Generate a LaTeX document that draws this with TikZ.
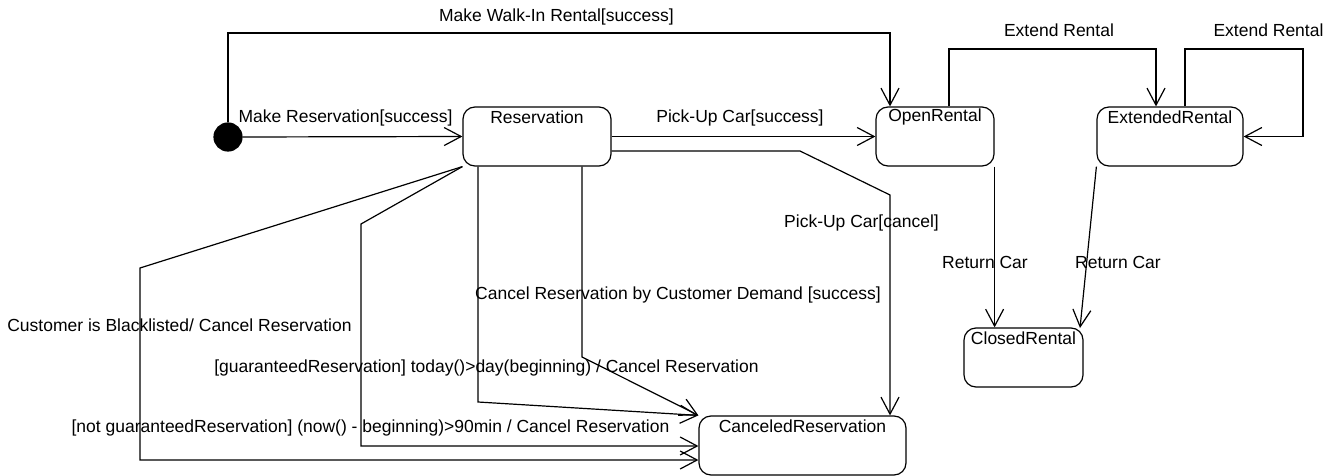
\documentclass[tikz,border=0pt]{standalone}
\usepackage{fontspec}
\setmainfont{Liberation Sans}
\usetikzlibrary{arrows.meta}

\tikzset{
  state/.style={draw, line width=1.2pt, rounded corners=12pt, inner sep=0pt},
  initial/.style={circle, fill=black, draw, line width=1.2pt, minimum size=28pt, inner sep=0pt},
  tr/.style={line width=1.2pt, -{Straight Barb[length=17pt, width=18pt, line width=1.2pt]}},
  lbl/.style={inner sep=0pt, font=\fontsize{17.5}{20}\selectfont},
}

\begin{document}
\begin{tikzpicture}[x=1pt, y=-1pt, font=\fontsize{17.5}{20}\selectfont]
  \useasboundingbox (0,0) rectangle (1338,476);

  % states
  \node[initial] (init) at (228,137) {};
  \node[state, minimum width=148pt, minimum height=59pt,
        label={[lbl, anchor=center, yshift=-11pt]north:Reservation}] (res) at (537,136.5) {};
  \node[state, minimum width=118pt, minimum height=59pt,
        label={[lbl, anchor=center, yshift=-11pt]north:OpenRental}] (open) at (935,136.5) {};
  \node[state, minimum width=146pt, minimum height=59pt,
        label={[lbl, anchor=center, yshift=-11pt]north:ExtendedRental}] (ext) at (1170,136.5) {};
  \node[state, minimum width=119pt, minimum height=59pt,
        label={[lbl, anchor=center, yshift=-11pt]north:ClosedRental}] (closed) at (1023.5,357.5) {};
  \node[state, minimum width=207pt, minimum height=59pt,
        label={[lbl, anchor=center, yshift=-11pt]north:CanceledReservation}] (canc) at (802.5,445.5) {};

  % bend points
  \coordinate (w1) at (890,33);
  \coordinate (pc1) at (800,151);
  \coordinate (pc2) at (890,195);
  \coordinate (e1) at (949,49);
  \coordinate (e2) at (1156,49);
  \coordinate (s1) at (1185,49);
  \coordinate (s2) at (1303,49);
  \coordinate (s3) at (1303,136.5);
  \coordinate (cd1) at (582,357);
  \coordinate (gr1) at (478,402);
  \coordinate (ng1) at (361,224);
  \coordinate (ng2) at (361,446);
  \coordinate (bl1) at (140,268);
  \coordinate (bl2) at (140,460);
  \coordinate (rc2) at (1080,328);

  % transitions
  \draw[tr] (init.north) |- (w1) -- (w1 |- open.north);
  \draw[tr] (init.east) -- (res.west);
  \draw[tr] (res.east) -- (open.west);
  \draw[tr] (res.east |- pc1) -- (pc1) -- (pc2) -- (pc2 |- canc.north);
  \draw[tr] (open.north -| e1) -- (e1) -- (e2) -- (e2 |- ext.north);
  \draw[tr] (ext.north -| s1) -- (s1) -- (s2) -- (s3) -- (ext.east);
  \draw[tr] (open.south east) -- (open.south east |- closed.north);
  \draw[tr] (ext.south west) -- (rc2);
  \draw[tr] (res.south -| cd1) -- (cd1) -- (canc.north west);
  \draw[tr] (res.south -| gr1) -- (gr1) -- (canc.north west);
  \draw[tr] (res.south west) -- (ng1) -- (ng2) -- (ng2 -| canc.west);
  \draw[tr] (res.south west) -- (bl1) -- (bl2) -- (bl2 -| canc.west);

  % transition labels
  \node[lbl] (l1) at (556.5,17) {Make Walk-In Rental[success]};
  \node[lbl] (l2) at (345.5,118) {Make Reservation[success]};
  \node[lbl] (l3) at (740,118) {Pick-Up Car[success]};
  \node[lbl] (l4) at (861.5,223) {Pick-Up Car[cancel]};
  \node[lbl] (l5) at (1059,30) {Extend Rental};
  \node[lbl] (l6) at (1268.5,30) {Extend Rental};
  \node[lbl] (l7) at (985,262) {Return Car};
  \node[lbl] (l8) at (1118,262) {Return Car};
  \node[lbl] (l9) at (678,295) {Cancel Reservation by Customer Demand [success]};
  \node[lbl] (l10) at (486.5,368) {[guaranteedReservation] today()>day(beginning) / Cancel Reservation};
  \node[lbl] (l11) at (370.5,428) {[not guaranteedReservation] (now() - beginning)>90min / Cancel Reservation};
  \node[lbl] (l12) at (179.5,325) {Customer is Blacklisted/ Cancel Reservation};
\end{tikzpicture}
\end{document}
